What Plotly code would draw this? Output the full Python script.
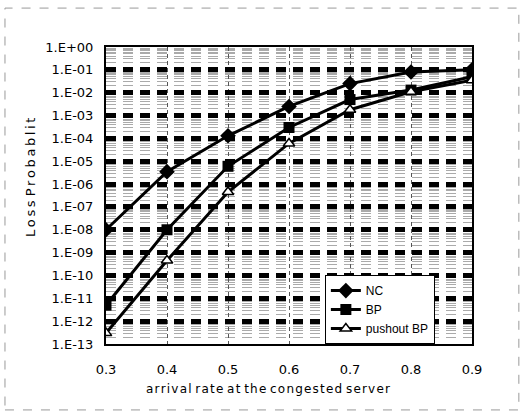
import plotly.graph_objects as go

x_vals = [0.3, 0.4, 0.5, 0.6, 0.7, 0.8, 0.9]
nc = [1e-8, 3.5e-6, 1.3e-4, 2.5e-3, 2.5e-2, 8e-2, 1e-1]
bp = [5e-12, 1e-8, 6e-6, 3e-4, 5e-3, 1.3e-2, 5e-2]
pushout = [3e-13, 4.5e-10, 4.5e-7, 6e-5, 1.8e-3, 1.1e-2, 3.5e-2]

y_tickvals = [10.0 ** (-k) for k in range(0, 14)]
y_ticktext = ["1.E+00"] + ["1.E-%02d" % k for k in range(1, 14)]
x_ticktext = ["0.3", "0.4", "0.5", "0.6", "0.7", "0.8", "0.9"]
minor_vals = [m * 10.0 ** (-k) for k in range(1, 14) for m in range(2, 10)]


def spaced(s, gap="\u200a"):
    return " ".join(gap.join(list(w)) for w in s.split(" "))


fig = go.Figure()
fig.add_trace(go.Scatter(x=x_vals, y=nc, name="NC", mode="lines+markers",
                         line=dict(color="black", width=3),
                         marker=dict(symbol="diamond", size=12, color="black")))
fig.add_trace(go.Scatter(x=x_vals, y=bp, name="BP", mode="lines+markers",
                         line=dict(color="black", width=3),
                         marker=dict(symbol="square", size=11, color="black")))
fig.add_trace(go.Scatter(x=x_vals, y=pushout, name="pushout BP", mode="lines+markers",
                         line=dict(color="black", width=3),
                         marker=dict(symbol="triangle-up", size=10, color="white",
                                     line=dict(color="black", width=1.5))))

fig.update_layout(
    width=521, height=411,
    margin=dict(l=106, r=49, t=47, b=67),
    paper_bgcolor="white", plot_bgcolor="white",
    font=dict(family="DejaVu Sans, Arial, sans-serif", size=12, color="black"),
    showlegend=True,
    legend=dict(x=0.598, y=0.232, xanchor="left", yanchor="top",
                bgcolor="white", bordercolor="black", borderwidth=1,
                font=dict(size=12, family="Liberation Sans Narrow, Arial Narrow, sans-serif"),
                tracegroupgap=0, itemwidth=30),
    xaxis=dict(range=[0.3, 0.9], tickvals=x_vals, ticktext=x_ticktext,
               showline=True, linecolor="black", linewidth=2, mirror=True,
               showgrid=True, gridcolor="#555", griddash="4px,3px", gridwidth=1,
               ticks="", ticklen=0, ticklabelstandoff=12,
               tickfont=dict(size=13)),
    yaxis=dict(type="log", range=[-13, 0], tickvals=y_tickvals, ticktext=y_ticktext,
               showline=True, linecolor="black", linewidth=2, mirror=True,
               showgrid=True, gridcolor="black", griddash="10px,7px", gridwidth=5,
               minor=dict(showgrid=True, tickvals=minor_vals, gridcolor="#aaa",
                          griddash="10px,7px", gridwidth=1, ticks=""),
               ticks="", tickfont=dict(size=13), ticklabelstandoff=8),
)
fig.add_annotation(text=spaced("arrival rate at the congested server"),
                   xref="paper", yref="paper", x=(268 - 106) / 366, y=(344 - 389) / 297,
                   xanchor="center", yanchor="middle", showarrow=False,
                   font=dict(size=12))
fig.add_annotation(text=spaced("Loss Probablit", "\u2009"),
                   xref="paper", yref="paper", x=(30 - 106) / 366, y=(344 - 178) / 297,
                   xanchor="center", yanchor="middle", showarrow=False, textangle=-90,
                   font=dict(size=13))
fig.add_shape(type="rect", xref="paper", yref="paper", x0=-0.276, x1=1.128, y0=-0.222, y1=1.131,
              line=dict(color="#999", width=1, dash="dash"))
fig.write_html("out.html")
